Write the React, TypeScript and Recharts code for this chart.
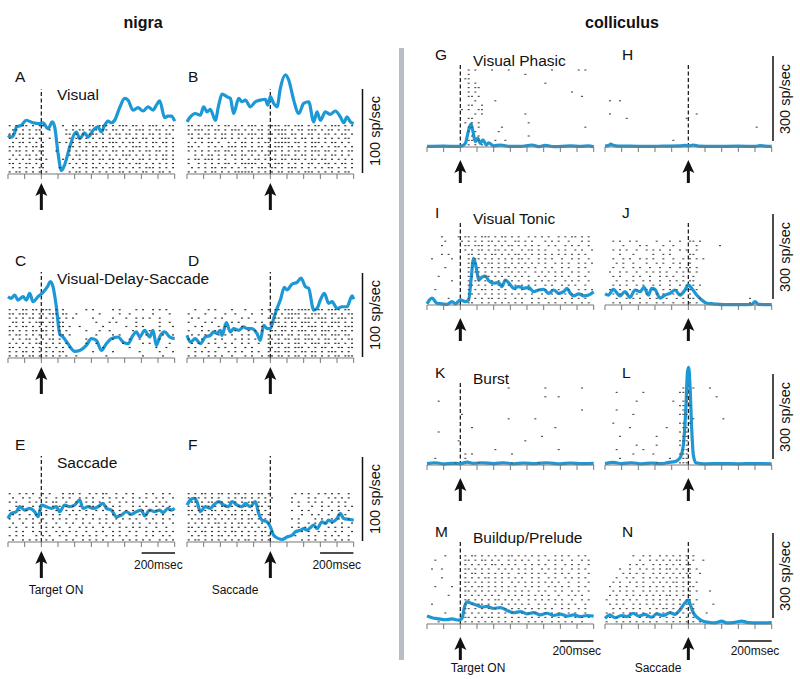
import React from 'react';
import { ComposedChart, Line, Scatter, XAxis, YAxis, ReferenceLine } from 'recharts';

const BLUE = '#1c98d6';
const FONT = '"Liberation Sans", Arial, Helvetica, sans-serif';
const TICKS = [0, 1, 2, 3, 4, 5, 6, 7, 8, 9, 10];
const BIN = 0.2; // raster bin, in 100 ms tick units
const PLOT_W = 166.7;
const EXTRA = 40;

type Pt = [number, number];

// firing rate curves: [time (100 ms ticks), spikes/sec]
const curveA: Pt[] = [[0, 46], [0.2, 44], [0.4, 49], [0.5, 56], [0.8, 58], [1.1, 64], [1.5, 61], [1.9, 60], [2.1, 61], [2.4, 54], [2.66, 62], [2.8, 56], [3.0, 25], [3.2, 4], [3.4, 11], [3.7, 32], [4.1, 50], [4.3, 42], [4.6, 49], [4.8, 44], [5.1, 52], [5.4, 56], [5.6, 50], [5.8, 58], [6.0, 63], [6.2, 61], [6.4, 64], [6.7, 79], [7.0, 90], [7.2, 88], [7.5, 76], [7.8, 79], [8.1, 75], [8.4, 80], [8.7, 76], [8.9, 82], [9.1, 87], [9.4, 67], [9.6, 69], [9.8, 69], [10, 63]];
const curveB: Pt[] = [[0, 62], [0.2, 68], [0.5, 72], [0.8, 70], [1.0, 80], [1.2, 74], [1.4, 77], [1.7, 64], [1.9, 82], [2.1, 95], [2.4, 92], [2.6, 90], [2.8, 72], [3.1, 90], [3.3, 86], [3.5, 88], [3.8, 80], [4.1, 86], [4.4, 88], [4.7, 89], [4.84, 82], [5.0, 92], [5.2, 84], [5.4, 80], [5.6, 102], [5.9, 118], [6.1, 112], [6.4, 88], [6.7, 72], [7.0, 84], [7.3, 86], [7.6, 62], [7.8, 74], [8.0, 64], [8.3, 74], [8.6, 71], [8.9, 75], [9.2, 68], [9.4, 61], [9.6, 68], [9.8, 62], [10, 60]];
const curveC: Pt[] = [[0, 73], [0.2, 71], [0.4, 75], [0.6, 69], [0.9, 73], [1.1, 69], [1.3, 77], [1.5, 67], [1.8, 73], [2.1, 78], [2.4, 86], [2.54, 91], [2.7, 85], [2.9, 61], [3.1, 29], [3.3, 25], [3.6, 17], [4.0, 8], [4.3, 9], [4.7, 15], [5.0, 23], [5.3, 21], [5.6, 9], [5.9, 17], [6.2, 23], [6.6, 25], [6.9, 19], [7.2, 17], [7.5, 27], [7.7, 31], [7.9, 25], [8.2, 33], [8.5, 25], [8.7, 33], [8.9, 15], [9.1, 25], [9.4, 31], [9.7, 25], [10, 23]];
const curveD: Pt[] = [[0, 27], [0.2, 19], [0.5, 23], [0.8, 17], [1.1, 25], [1.4, 27], [1.6, 31], [1.8, 29], [2.0, 33], [2.1, 27], [2.36, 42], [2.6, 31], [2.8, 35], [3.1, 33], [3.4, 37], [3.6, 35], [3.9, 35], [4.2, 29], [4.4, 21], [4.6, 39], [4.8, 35], [5.0, 35], [5.2, 47], [5.4, 59], [5.6, 69], [5.84, 84], [6.0, 81], [6.3, 88], [6.6, 90], [6.84, 95], [7.1, 85], [7.3, 83], [7.6, 57], [7.8, 59], [8.0, 69], [8.24, 77], [8.5, 65], [8.7, 67], [9.0, 59], [9.3, 61], [9.6, 61], [9.9, 74], [10, 70]];
const curveE: Pt[] = [[0, 28], [0.2, 34], [0.5, 36], [0.7, 42], [1.0, 38], [1.3, 40], [1.6, 36], [1.8, 30], [1.9, 36], [2.0, 44], [2.3, 42], [2.6, 40], [2.9, 42], [3.1, 36], [3.4, 44], [3.7, 42], [4.0, 44], [4.3, 50], [4.5, 40], [4.8, 42], [5.1, 40], [5.4, 42], [5.7, 46], [5.9, 40], [6.2, 38], [6.5, 30], [6.8, 32], [7.1, 36], [7.4, 33], [7.7, 36], [8.0, 38], [8.2, 31], [8.5, 38], [8.8, 36], [9.1, 38], [9.3, 35], [9.6, 40], [9.8, 38], [10, 40]];
const curveF: Pt[] = [[0, 44], [0.2, 50], [0.4, 52], [0.6, 48], [0.8, 36], [1.1, 42], [1.4, 40], [1.6, 44], [1.9, 48], [2.2, 44], [2.5, 42], [2.7, 48], [3.0, 44], [3.3, 42], [3.5, 46], [3.8, 42], [4.1, 48], [4.3, 34], [4.5, 26], [4.8, 24], [5.0, 18], [5.2, 8], [5.5, 4], [5.7, 3], [6.0, 6], [6.3, 8], [6.5, 12], [6.8, 14], [7.0, 16], [7.2, 14], [7.4, 17], [7.6, 20], [7.8, 16], [8.1, 24], [8.3, 22], [8.5, 26], [8.7, 24], [9.0, 28], [9.2, 34], [9.4, 28], [9.7, 27], [10, 26]];
const curveG: Pt[] = [[0, 2], [1.0, 3], [1.8, 2], [2.1, 4], [2.3, 13], [2.5, 60], [2.64, 81], [2.76, 54], [2.9, 19], [3.04, 31], [3.2, 13], [3.36, 25], [3.56, 7], [3.7, 15], [4.0, 4], [4.4, 7], [5.0, 2], [5.6, 2], [6.3, 7], [6.7, 1], [7.1, 6], [7.6, 1], [8.6, 4], [9.2, 2], [9.7, 4], [10, 1]];
const curveH: Pt[] = [[0, 3], [0.2, 5], [0.35, 10], [0.5, 6], [0.8, 3], [1.5, 3], [2.5, 2], [3.5, 3], [4.5, 4], [4.8, 6], [5.0, 4], [5.3, 7], [5.6, 3], [6.5, 2], [8, 3], [9, 2], [9.3, 5], [9.6, 3], [10, 2]];
const curveI: Pt[] = [[0, 4], [0.3, 24], [0.6, 6], [0.9, 4], [1.2, 2], [1.5, 12], [1.7, 4], [2.0, 18], [2.3, 12], [2.5, 18], [2.64, 88], [2.8, 165], [2.96, 130], [3.1, 88], [3.3, 98], [3.5, 102], [3.7, 86], [4.0, 77], [4.3, 79], [4.5, 65], [4.7, 88], [5.0, 71], [5.2, 59], [5.5, 65], [5.8, 59], [6.1, 62], [6.4, 47], [6.7, 53], [7.0, 55], [7.3, 41], [7.6, 53], [7.9, 41], [8.2, 47], [8.4, 59], [8.6, 41], [8.8, 32], [9.1, 39], [9.4, 32], [9.7, 35], [10, 47]];
const curveJ: Pt[] = [[0, 39], [0.2, 35], [0.5, 55], [0.9, 32], [1.2, 47], [1.5, 27], [1.8, 53], [2.1, 47], [2.34, 62], [2.6, 35], [2.8, 59], [3.0, 55], [3.3, 24], [3.6, 35], [3.9, 41], [4.2, 53], [4.5, 35], [4.8, 53], [5.0, 71], [5.2, 59], [5.5, 35], [5.8, 18], [6.1, 6], [6.5, 4], [7.1, 1], [8.1, 1], [8.8, 2], [9.0, 12], [9.2, 2], [10, 1]];
const curveK: Pt[] = [[0, 5], [0.5, 8], [1, 4], [1.5, 6], [2, 5], [2.4, 10], [2.8, 6], [3.3, 8], [4, 5], [4.6, 8], [5.2, 4], [5.8, 7], [6.5, 5], [7.2, 8], [8, 4], [8.6, 7], [9.3, 5], [10, 6]];
const curveL: Pt[] = [[0, 5], [0.5, 9], [1, 5], [1.6, 8], [2.2, 4], [2.8, 7], [3.4, 5], [3.8, 9], [4.2, 12], [4.5, 25], [4.7, 70], [4.85, 200], [4.95, 330], [5.02, 345], [5.1, 280], [5.2, 130], [5.3, 35], [5.45, 8], [6, 4], [7, 5], [8, 4], [9, 5], [10, 4]];
const curveM: Pt[] = [[0, 28], [0.3, 22], [0.7, 18], [1.1, 15], [1.5, 18], [1.9, 14], [2.1, 20], [2.25, 60], [2.4, 78], [2.7, 72], [3.0, 66], [3.3, 60], [3.6, 62], [4.0, 55], [4.4, 58], [4.8, 48], [5.2, 40], [5.6, 44], [6.0, 36], [6.4, 40], [6.8, 32], [7.2, 38], [7.6, 30], [8.0, 35], [8.4, 28], [8.8, 32], [9.2, 26], [9.6, 30], [10, 28]];
const curveN: Pt[] = [[0, 20], [0.3, 32], [0.6, 22], [1.0, 30], [1.3, 26], [1.7, 38], [2.0, 28], [2.4, 34], [2.8, 24], [3.1, 36], [3.5, 30], [3.9, 40], [4.2, 34], [4.5, 50], [4.8, 75], [5.0, 85], [5.15, 62], [5.3, 40], [5.5, 25], [5.8, 12], [6.2, 6], [6.6, 4], [7.0, 10], [7.3, 4], [7.8, 6], [8.2, 10], [8.6, 5], [9.2, 4], [10, 5]];

// spike rasters, one string per trial (top trial first), 'x' = spike in a 20 ms bin
const rasterA = [
  'x.x.xx.x.xx.....x..xx.x.xx.xxx.x.xxx.xx.x.xxx.x.xx',
  '.xx.x.x.xx..x....x.x.xx.x.x.xx.xx.x.x.xxx.x.xx.x.x',
  'xx.xx.x.x.x......xx.x.x.xxx.x.x.xx.xx.x.x.xx.x.xx.',
  'x.x.x.xx.x..x.....x.xx.x.x.xx.xx.x.x.xx.xx.x.x.x.x',
  '.x.xx.x.x.x....x.x.x.x.xx.x.x.xxx.x.xx.x.x.xx.xx.x',
  'xx.x.x.xx.x.......xx.x.x.xx.xx.x.x.x.xxx.x.x.x.x.x',
  'x.xx.x.x.xx...x...x.x.xx.x.x.x.xx.x.xx.x.xx.xx.x.x',
  '.x.x.xx.x.x.......x.xx.x.xx.x.x.x.xxx.x.x.x.x.xx.x',
  'x.x.x.x.xx.x....x..x.x.x.x.xx.xx.x.x.x.xx.x.x.xx.x',
  'xx.x.xx.x.x.......x.x.xx.x.x.x.x.xx.x.xx.x.x.x.x.x',
  '.x.x.x.x.xx....x...x.x.x.xx.x.xx.x.x.x.x.xxx.x.x.x',
  'x.xx.x.x.x.x......x.xx.x.x.x.x.x.xx.x.x.xx.x.xx.x.',
];
const rasterB = [
  'xx.x.xxx.x.xx.x.x.xxx.x.xxxx.xx.xxx.x.xx.x.xxx.x.x',
  'x.xxx.x.xx.x.xxx.x.x.xx.x.xxxx.x.xx.xxx.x.xx.x.xx.',
  'xx.x.xx.x.xx.x.xx.xxx.x.xx.xxx.xx.x.xx.x.xx.x.xx.x',
  '.x.xx.x.x.xx.x.x.x.x.xx.x.x.xxx.x.xx.x.x.x.x.x.xx.',
  'x.x.x.xx.x..x.x.xx.x.x.xx.xxxxx.xx.x.xxx.x.xx.x.x.',
  'xx.x..x.x.x.xxx.xx.x.xx.x.xxx.xx.x.x.xx.x.x.xx.x.x',
  'x.x.x.x.xx.xx.x.x.xxx.x.xxx.x.x.xx.x.xxx.xx.x.x.xx',
  '..x.x.xx.x.x.xx.xx.x.x.xx.x.xxx.x.xx.x.x.x.xx.x.x.',
  'x.xx.xxx.x.x..x.x.x.xx.x.xx.xx.xxx.x.xx.xx.x.x.x.x',
  'x..x.x.x.x.xx.x.xxxxx.x.x.xxx.x.x.x.xx.x.xx.x.xx.x',
  '.x.x.x.xx.xx.x.x.x.x.xxx.xx.x.xxx.x.x.x.x.xx.x.x.x',
  'x.x..x.xx.x.x.xxxxxx.x.x.x.xx.xx.x.xxx.x.x.x.x.xx.',
];
const rasterC = [
  'x.x.xx.xx.xxx.x.x......x.x.....x.x....x.x..x.x.x..',
  'xx.xxx.x.xx.xxx.xx..x......x.....x..x......x....x.',
  'x.x.x.xx.x.x.x.x.x.x.....x.....x...x..x.x.x..x....',
  '.xx.x.x.xxx.xx.xx.........x...x.x.....x......x..x.',
  'x.x.xx.x.x.x.x.xx.x..x......x......x..x.x....x...x',
  'xx.x.x.xx.xx.x.x.x.....x...x..x......x....x..x....',
  'x.xx.x.x.x.x.x.xx.x.......x....x.x.......x....x..x',
  '.x.x.xx.x.x.xx.x.......x.......x....x..x.....x....',
  'x.x.x.x.xx.x.x.x.x.....x..x.......x.....x.x.....x.',
  'xx.x.x.x.x.xx.x.x.x.........x.......x.......x..x..',
  'x.x.xx.x.x.x.x.xx........x.....x.......x.....x...x.',
  'x.x.x.xx.x.x.x.x.x..x........x..........x.....x...',
];
const rasterD = [
  '..x...x.x....x...x....x.x.xx.xxx.xxxx.xxx.xxxx.xx.',
  'x....x.....x..x....x..x..xx.x.xxxx.x.xxx.x.xx.x.xx',
  '.x.x....x.x.....x.x.....x.xx.xxx.x.xxx.xxx.x.xxx.x',
  'x....x.x.....x.x....x.x..xxx.x.xx.xxx.x.xx.xxx.x.x',
  '..x.x....x.x....x.....x..x.xxx.xx.x.xxx.x.xx.x.xxx',
  'x...x.x.x.....x...x.x.x..xx.xx.x.xxx.xx.xxx.x.xx.x',
  '.x.x.x...x.x.x..x.x.....x.xxx.xx.x.xx.x.xx.xxx.xx.',
  'x...x...x.x...x.x.x.x...xx.x.xx.xx.xxx.x.xx.x.x.xx',
  '.x.x..x.x..x.x..x.x..x..x.xxx.x.xx.x.xxx.xx.xx.x.x',
  'x.x..x...x.x..x..x.x....xx.x.xx.xxx.x.x.xx.x.xx.xx',
  '..x.x.x.x...x.x.x..x.x..x.xx.xx.x.xx.xx.x.xxx.x.x.',
  'x.x...x.x.x..x...x.x..x.xx.xx.x.xx.x.xx.x.x.xx.xxx',
];
const rasterE = [
  'x..x.x.x..x.x...x.xx.x..x.x.xx..x..x.x...x.x..x.x.',
  '.x..x.x..x.x..x.x.x..x.x.x..x.x.x.x..x.x.x..x.x..x',
  'x.x...x.x..x.xx..x..x..x.x.x..x..x.x.x..x..x.x.x..',
  '..x.x..x.x...x.x.x.x.x..xx.x.x.x.x...x.x.x..x.x.x.',
  'x..x.x...x.x..x..x.x.x.x..x.x..x.x.x.x..x.x.x...x.',
  '.x.x..x.x..x.x.x..x.x..x.x...x.x.x..x..x.x..x.x..x',
  'x..x.x.x..x..x.x.x..x.x..x.x.x..x.x.x.x..x.x..x.x.',
  '.x..x..x.x.x..x..x.x..x.x..x.x.x.x...x.x..x.x.x..x',
  'x.x..x.x...x.x.x..x..x.x.x..x.x..x.x.x.x.x..x..x..',
  '..x.x..x.x.x..x.x.x.x..x..x.x..x.x..x.x..x.x.x.x.x',
  'x.x.x...x.x.x..x.x..x.x.x.x..x.x.x.x..x..x.x..x.x.',
  '.x..x.x.x..x.x...x.x..x.x.x.x..x..x.x.x.x.x..x.x.x',
];
const rasterF = [
  'x.x.xx.x.xx.x.xx.x.x.xx.x.......x.x.x..x.x.x.x..x.',
  'x.xx.x.x.x..x.x.xx.x.x.x.x.....x....x.x...x.x.x.x.',
  '.xx.x.xx.xx.x.x.x.xx.x.x.......x.x..x.x.x..x.x.x..',
  'x.x.x.x.x.xx.x.x.x.x.xx.x........x...x..x.x..x.x.x',
  'xx.x.x.xx.x.x.x.xx.x.x.x.......x..x.x...x..x.x..x.',
  'x.x.x.xx.x.x.xx.x.x.x.x.x.........x..x.x..x..x.x..',
  '.x.xx.x.x.x.x.x.x.xx.x.x.......x.x....x.x..x.x..x.',
  'x.x.x.x.xx.x.x.xx.x.x.x.x........x..x.x..x.x..x..x',
  'xx.x.x.x.x.x.x.x.x.x.x.x.......x.x.x..x...x.x.x.x.',
  'x.x.xx.x.x.x.xx.x.x.x.xx.x........x.x..x.x..x.x..x',
  '.x.x.x.x.xx.x.x.x.x.x.x.x.......x...x.x..x.x.x..x.',
  'x.xx.x.x.x.x.x.x.xx.x.x.x.........x.x.x..x..x.x.x.',
];
const rasterG = [
  '............x.x....x....x............x.......x.x..',
  '............x................x....................',
  '...........xx.....................................',
  '............x.x....................x..............',
  '............x.xx..................................',
  '............x.x............................x......',
  '............xx.x..............................x...',
  '..............x.....x.............................',
  '............xx..x.................................',
  '..........x.x..xx.................................',
  '..............x.x............x....................',
  '............xx....................................',
  '...........x.x.x..............x...................',
  '............xx.x......x........................x..',
  '............x.x......x............................',
  '.............x.x..............x...................',
  '............xx.x....x..x..........................',
  '............x.x.x.................................',
];
const rasterH = [
  '', '', '', '', '', '', '',
  '.x..x',
  '', '',
  '.x.........................x',
  '......x.................x',
  '',
  '.............................................x',
  '', '',
  '....................x',
  '',
];
const rasterI = [
  '....x....x.xx.x.xxx.x.xx.x.x..x.x.x.x..x.x.xx.x.x.',
  '.....x....x.x.x.x.xx.x.x..xx.x.x...x.x.x..x...x.x.',
  '....x......xx.xxx.x.x.x.xx.x.x.x.x..x.x..x.x.x..x.',
  '...........x.x.xx.x.xx.x.x..x.xx.x.x...x.x..x.x..x',
  '....x.x.....xx.x.x.xx.x.x.xx.x.x.x.x.x.x.x.x.x.x..',
  '.x.....x....x.xx.x.x.x.x.x.xx.x..x.x.x..x..x.x..x.',
  '............xxx.x.xx.x.x.x.x.x.x.x.x..x.x.x..x.x.x',
  '.....x......xx.x.x.x.x.xx.x.x.x.x..x.x..x.x..x.x..',
  '............x.xx.x.x.x.x.x.x.x..x.x.x.x.x..x.x..x.',
  '...x........xx.x.xx.x.x.x.x.x.x..x.x..x.x.x..x.x..',
  '.......x....x.xx.x.x.x.x.x.x..x.x.x.x.x..x.x.x..x.',
  '............xx.x.x.x.xx.x.x.x.x.x..x.x..x.x.x..x..',
  '..x.........x.x.xx.x.x.x..x.x.x..x.x.x.x..x..x.x.x',
  '............xx.x.x.x.x.x.x.x.x.x..x..x.x.x.x..x...',
  '......x.....x.x.x.xx.x.x..x.x..x.x.x..x.x..x.x.x..',
  '............xx..x.x.x.x.x.x.x..x.x..x.x..x.x..x.x.',
];
const rasterJ = [
  '..x.x..x.x.....x...x..x..xx.x',
  '.....x....x.x....x..x......x......x',
  '..x.x.x..x..x.x.x..x..x.x..x',
  '....x...x.....x..x.x.....xx',
  '..x..x.x..x.x.x..x..x..x.x.x.x',
  '...x.x..x...x..x.x..x.x..x',
  '..x..x..x.x..x..x..x..x.xx.x',
  '.x..x.x..x..x.x.x.x..x.x.x.x',
  '..x.x...x.x..x..x.x.x..x..x',
  '...x..x.x..x.x..x..x.x.x.xx',
  '..x.x.x..x.x..x.x..x..x.x.x.x',
  '.x..x..x.x..x.x..x.x.x..xx.x',
  '..x.x.x..x..x..x.x..x.x..x',
  '...x..x.x.x..x.x..x..x.x.xx.x..............x',
  '..x.x..x..x.x..x.x..x..x.x.x...............x',
];
const rasterK = [
  '........................x..........x..........x',
  '',
  '...................................x...x',
  '...x',
  '',
  '..............................................x',
  '..........x',
  '........................x.......x',
  '',
  '.............x........................x',
  '...x',
  '..................................x',
  '.........x...................x',
  '',
  '....................x..................x',
  '...........x.x...........x',
  '..x........x',
  '........x......x.........x.......x',
];
const rasterL = [
  '.......................x..x....x',
  '...x.......x..........xx',
  '........................x........x',
  '.........x..........x..xx',
  '......................xx.x',
  '...x...................x',
  '........x.............xxx',
  '..........................x........x',
  '..x...................xx.x',
  '.......x..........x....xx',
  '......................x.x',
  '....x..........x.......xx',
  '......................xxx',
  '.........x.....x......x.x',
  '...x.......x...........xx',
  '........x.....x.......xxx',
  '....x..............x...xx',
  '...............x......xxx',
];
const rasterM = [
  '.....x.....x.xx.x.x.x.x.xx.x.x.x.x.x..x.x.x..x.x.',
  '..x........xx.x.xx.x.x..x.x.x.x..x..x.x.x..x..x.x',
  '...........x.x.x.x.xx.x.x.x..x.x.x.x..x..x.x.x..x',
  '.x..x......xx.x.x.x..x.x.x.x.x.x..x.x.x.x..x.x.x.',
  '...........x.xx.x.x.x.x.x..x.x.x.x.x..x.x.x..x..x',
  '....x......x.x.x.xx.x.x.x.x.x..x.x..x.x..x.x.x.x.',
  '...........xx.x.x.x.x.x..x.x.x.x.x.x.x.x..x..x..x',
  '..x....x...x.x.xx.x.x.x.x.x..x.x.x..x.x.x.x..x.x.',
  '...........xx.x.x.x.x.x.x.x.x.x..x.x..x.x..x.x..x',
  '......x....x.x.x.x.x.x..x.x.x.x.x.x.x..x..x.x.x..',
  '...........xx.x.x.x.xx.x.x.x..x.x.x.x.x.x..x..x.x',
  '.x.........x.x.xx.x.x.x.x.x.x.x..x.x..x.x.x.x..x.',
  '...........xx.x.x.x.x..x.x.x.x.x.x.x.x..x.x..x.x.',
  '.....x.....x.x.x.x.x.x.x.x..x.x.x..x.x.x..x.x..x.',
  '...........xx.x.x.xx.x.x.x.x.x.x.x.x.x.x.x..x.x.x',
  '...x.......x.x.x.x.x.x.x.x.x..x.x.x..x.x.x.x..x..',
];
const rasterN = [
  '........x..x.x..x.x.x.x.x.x',
  '..........x..x.x.x.x.xx.x.x..x',
  '.......x.x.x..x.x.x.x.x.xx',
  '....x..x..x.x.x.x.xx.x.x.x.x',
  '.....x.x.x.x..x.x.x.x.x.xx..x',
  '...x..x.x..x.x.x.x.x.x.x.x',
  '..x.x..x.x.x..x.x.x.xx.x.x.x',
  '.x..x.x..x.x.x.x.x.x.x.x.xx',
  '..x.x.x.x..x.x.x.x.x.x.x.x.x...x',
  '.x.x..x.x.x.x.x.x.xx.x.x.x',
  'x..x.x.x.x..x.x.x.x.x.x.xx.x',
  '.x.x.x..x.x.x.x.x.x.x.x.x.x.....x',
  '..x.x.x.x.x..x.x.xx.x.x.x.x',
  'x.x..x.x.x.x.x.x.x.x.x.x.xx...x',
  '.x.x.x.x..x.x.x.x.x.x.x.x.x',
  'x..x.x.x.x.x.x.x..x.x.x.x.x.x',
];

function ArrowTick({ x, y, payload, event, off }: any) {
  if (payload.value !== event) return <g />;
  const t = y + off;
  return (
    <g>
      <rect x={x - 1.5} y={t + 8} width={3} height={31 - off - 8} fill="#111" />
      <polygon points={`${x},${t} ${x - 6},${t + 13} ${x},${t + 10} ${x + 6},${t + 13}`} fill="#111" />
    </g>
  );
}

interface PanelProps {
  x: number;
  axis: number;
  top: number;
  unitPx: number;
  rowPx: number;
  event: number;
  curve: Pt[];
  raster: string[];
  dot: string;
  off: number;
}

function Panel({ x, axis, top, unitPx, rowPx, event, curve, raster, dot, off }: PanelProps) {
  const padL = 6;
  const padR = 6;
  const axisH = 42;
  const plotH = axis - top + EXTRA;
  const line = curve.map(([t, rate]) => ({ t, rate }));
  const spikes: { t: number; row: number }[] = [];
  raster.forEach((s, r) => {
    Array.from(s).forEach((c, i) => {
      if (c === 'x') spikes.push({ t: (i + 0.5) * BIN, row: raster.length - 1 - r + 0.5 });
    });
  });
  const dashTop = (axis - top) / unitPx;
  return (
    <div style={{ position: 'absolute', left: x - padL, top: top - EXTRA }}>
      <ComposedChart
        width={PLOT_W + padL + padR}
        height={plotH + axisH}
        margin={{ top: 0, right: padR, bottom: 0, left: padL }}
      >
        <XAxis
          type="number"
          dataKey="t"
          domain={[0, 10]}
          ticks={TICKS}
          interval={0}
          height={axisH}
          tickSize={5}
          tickMargin={0}
          stroke="#777"
          tick={(p: any) => <ArrowTick {...p} event={event} off={off} />}
        />
        <YAxis yAxisId="rate" hide domain={[0, plotH / unitPx]} />
        <YAxis yAxisId="row" dataKey="row" hide domain={[0, plotH / rowPx]} />
        <ReferenceLine
          yAxisId="rate"
          segment={[{ x: event, y: 0 }, { x: event, y: dashTop }]}
          stroke="#222"
          strokeDasharray="4 2.5"
          strokeWidth={1.3}
        />
        <Scatter
          yAxisId="row"
          data={spikes}
          dataKey="row"
          isAnimationActive={false}
          shape={(p: any) => <rect x={p.cx - 1} y={p.cy - 0.6} width={2} height={1.2} fill={dot} />}
        />
        <Line
          yAxisId="rate"
          data={line}
          dataKey="rate"
          type="monotone"
          stroke={BLUE}
          strokeWidth={3.2}
          dot={false}
          isAnimationActive={false}
        />
      </ComposedChart>
    </div>
  );
}

const NIGRA_X = [8.3, 186.7];
const COLL_X = [426.7, 605];
const NIGRA_AXIS = [174, 358, 542];
const COLL_AXIS = [147, 305, 465, 624];
const N_UNIT = 84 / 100;
const C_UNIT = 85 / 300;

const panels: PanelProps[] = [
  { x: NIGRA_X[0], axis: NIGRA_AXIS[0], top: 89, unitPx: N_UNIT, rowPx: 4.2, event: 2, curve: curveA, raster: rasterA, dot: '#333', off: 4 },
  { x: NIGRA_X[1], axis: NIGRA_AXIS[0], top: 89, unitPx: N_UNIT, rowPx: 4.2, event: 5, curve: curveB, raster: rasterB, dot: '#333', off: 4 },
  { x: NIGRA_X[0], axis: NIGRA_AXIS[1], top: 272, unitPx: N_UNIT, rowPx: 4.2, event: 2, curve: curveC, raster: rasterC, dot: '#333', off: 4 },
  { x: NIGRA_X[1], axis: NIGRA_AXIS[1], top: 272, unitPx: N_UNIT, rowPx: 4.2, event: 5, curve: curveD, raster: rasterD, dot: '#333', off: 4 },
  { x: NIGRA_X[0], axis: NIGRA_AXIS[2], top: 456, unitPx: N_UNIT, rowPx: 4.2, event: 2, curve: curveE, raster: rasterE, dot: '#333', off: 4 },
  { x: NIGRA_X[1], axis: NIGRA_AXIS[2], top: 456, unitPx: N_UNIT, rowPx: 4.2, event: 5, curve: curveF, raster: rasterF, dot: '#333', off: 4 },
  { x: COLL_X[0], axis: COLL_AXIS[0], top: COLL_AXIS[0] - 84, unitPx: C_UNIT, rowPx: 4.4, event: 2, curve: curveG, raster: rasterG, dot: '#555', off: 8 },
  { x: COLL_X[1], axis: COLL_AXIS[0], top: COLL_AXIS[0] - 84, unitPx: C_UNIT, rowPx: 4.4, event: 5, curve: curveH, raster: rasterH, dot: '#555', off: 8 },
  { x: COLL_X[0], axis: COLL_AXIS[1], top: COLL_AXIS[1] - 84, unitPx: C_UNIT, rowPx: 4.4, event: 2, curve: curveI, raster: rasterI, dot: '#555', off: 8 },
  { x: COLL_X[1], axis: COLL_AXIS[1], top: COLL_AXIS[1] - 84, unitPx: C_UNIT, rowPx: 4.4, event: 5, curve: curveJ, raster: rasterJ, dot: '#555', off: 8 },
  { x: COLL_X[0], axis: COLL_AXIS[2], top: COLL_AXIS[2] - 84, unitPx: C_UNIT, rowPx: 4.4, event: 2, curve: curveK, raster: rasterK, dot: '#555', off: 8 },
  { x: COLL_X[1], axis: COLL_AXIS[2], top: COLL_AXIS[2] - 84, unitPx: C_UNIT, rowPx: 4.4, event: 5, curve: curveL, raster: rasterL, dot: '#555', off: 8 },
  { x: COLL_X[0], axis: COLL_AXIS[3], top: COLL_AXIS[3] - 84, unitPx: C_UNIT, rowPx: 4.4, event: 2, curve: curveM, raster: rasterM, dot: '#555', off: 8 },
  { x: COLL_X[1], axis: COLL_AXIS[3], top: COLL_AXIS[3] - 84, unitPx: C_UNIT, rowPx: 4.4, event: 5, curve: curveN, raster: rasterN, dot: '#555', off: 8 },
];

const nigraLetters = [['A', 'B', 'Visual'], ['C', 'D', 'Visual-Delay-Saccade'], ['E', 'F', 'Saccade']];
const collLetters = [['G', 'H', 'Visual Phasic'], ['I', 'J', 'Visual Tonic'], ['K', 'L', 'Burst'], ['M', 'N', 'Buildup/Prelude']];

function Overlay() {
  const txt = { fontFamily: FONT, fill: '#111' };
  return (
    <svg width={800} height={679} style={{ position: 'absolute', left: 0, top: 0, pointerEvents: 'none' }}>
      <text {...txt} x={143} y={28} textAnchor="middle" fontSize={16} fontWeight="bold">nigra</text>
      <text {...txt} x={622} y={28} textAnchor="middle" fontSize={16} fontWeight="bold">colliculus</text>
      <rect x={399} y={48} width={5} height={612} fill="#b9bdc4" />
      {NIGRA_AXIS.map((a, i) => (
        <g key={'n' + i}>
          <text {...txt} x={15} y={a - 92} fontSize={15.5}>{nigraLetters[i][0]}</text>
          <text {...txt} x={188} y={a - 92} fontSize={15.5}>{nigraLetters[i][1]}</text>
          <text {...txt} x={57} y={a - 74} fontSize={15.5}>{nigraLetters[i][2]}</text>
          <line x1={362.5} x2={362.5} y1={a - 85} y2={a - 1} stroke="#111" strokeWidth={1.5} />
          <text {...txt} fontSize={14.5} textAnchor="middle" dominantBaseline="middle" transform={`translate(376,${a - 43}) rotate(-90)`}>100 sp/sec</text>
        </g>
      ))}
      {COLL_AXIS.map((a, i) => (
        <g key={'c' + i}>
          <text {...txt} x={435} y={a - 87} fontSize={15.5}>{collLetters[i][0]}</text>
          <text {...txt} x={622} y={a - 87} fontSize={15.5}>{collLetters[i][1]}</text>
          <text {...txt} x={473} y={a - 81} fontSize={15.5}>{collLetters[i][2]}</text>
          <line x1={773} x2={773} y1={a - 91} y2={a - 6} stroke="#111" strokeWidth={1.5} />
          <text {...txt} fontSize={14.5} textAnchor="middle" dominantBaseline="middle" transform={`translate(786,${a - 48}) rotate(-90)`}>300 sp/sec</text>
        </g>
      ))}
      {[NIGRA_X[0], NIGRA_X[1]].map((x0, i) => (
        <g key={'sb' + i}>
          <line x1={x0 + PLOT_W * 0.8} x2={x0 + PLOT_W} y1={NIGRA_AXIS[2] + 11} y2={NIGRA_AXIS[2] + 11} stroke="#111" strokeWidth={1.5} />
          <text {...txt} x={x0 + PLOT_W * 0.9} y={NIGRA_AXIS[2] + 27} textAnchor="middle" fontSize={12}>200msec</text>
        </g>
      ))}
      {[COLL_X[0], COLL_X[1]].map((x0, i) => (
        <g key={'sc' + i}>
          <line x1={x0 + PLOT_W * 0.8} x2={x0 + PLOT_W} y1={COLL_AXIS[3] + 17} y2={COLL_AXIS[3] + 17} stroke="#111" strokeWidth={1.5} />
          <text {...txt} x={x0 + PLOT_W * 0.9} y={COLL_AXIS[3] + 31} textAnchor="middle" fontSize={12}>200msec</text>
        </g>
      ))}
      <text {...txt} x={56} y={594} textAnchor="middle" fontSize={12}>Target ON</text>
      <text {...txt} x={235} y={594} textAnchor="middle" fontSize={12}>Saccade</text>
      <text {...txt} x={478} y={672} textAnchor="middle" fontSize={12}>Target ON</text>
      <text {...txt} x={658} y={672} textAnchor="middle" fontSize={12}>Saccade</text>
    </svg>
  );
}

export default function App() {
  return (
    <div style={{ position: 'absolute', left: 0, top: 0, width: 800, height: 679, background: '#fff', overflow: 'hidden' }}>
      {panels.map((p, i) => (
        <Panel key={i} {...p} />
      ))}
      <Overlay />
    </div>
  );
}
